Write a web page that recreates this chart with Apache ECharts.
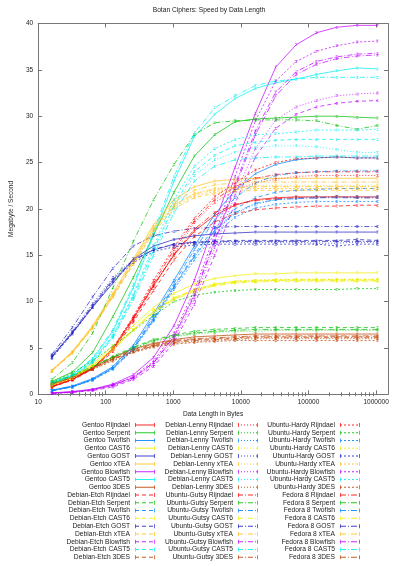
<!DOCTYPE html>
<html><head><meta charset="utf-8">
<script src="https://cdn.jsdelivr.net/npm/echarts@6/dist/echarts.min.js"></script>
<style>html,body{margin:0;padding:0;background:#fff}#c{width:400px;height:566px}</style>
</head><body><div id="c"></div><script>
const sizes = [16,32,64,128,256,512,1024,2048,4096,8192,16384,32768,65536,131072,262144,524288,1048576];
const distros = ['Gentoo','Debian-Etch','Debian-Lenny','Ubuntu-Gutsy','Ubuntu-Hardy','Fedora 8'];
const ciphers = ['Rijndael','Serpent','Twofish','CAST6','GOST','xTEA','Blowfish','CAST5','3DES'];
// each cipher: rows in distro order (Gentoo, Etch, Lenny, Gutsy, Hardy, Fedora 8)
const rijndael = [
 [0.8,1.6,2.8,4.9,8.2,11.8,15.0,17.6,19.3,20.4,21.0,21.2,21.3,21.3,21.3,21.3,21.3],
 [0.8,1.5,2.7,4.6,7.8,11.2,14.5,17.0,18.6,19.5,19.9,20.1,20.2,20.3,20.3,20.4,20.4],
 [0.8,1.6,2.7,4.8,8.0,11.6,15.2,18.5,20.7,22.0,22.8,23.2,23.5,23.6,23.6,23.6,23.6],
 [0.9,1.6,2.8,5.0,8.3,12.0,15.6,18.7,21.0,22.4,23.3,23.7,23.9,24.0,24.0,24.0,24.0],
 [0.9,1.6,2.8,5.0,8.4,12.3,15.9,19.0,21.3,22.8,24.2,25.0,25.4,25.5,25.6,25.5,25.5],
 [0.8,1.6,2.8,4.8,8.1,11.7,15.1,17.8,19.6,20.5,20.9,21.1,21.2,21.2,21.3,21.2,21.2]];
const serpent = [
 [1.4,2.4,4.5,8.4,12.6,17.2,21.8,25.7,28.0,29.4,29.7,29.8,29.9,30.0,30.0,29.9,29.8],
 [1.2,2.0,3.0,4.1,5.1,5.9,6.4,6.8,7.0,7.1,7.2,7.2,7.2,7.2,7.2,7.2,7.2],
 [1.1,1.9,2.9,3.9,4.9,5.7,6.2,6.5,6.7,6.8,6.8,6.9,6.9,6.9,6.9,6.9,6.9],
 [1.6,3.4,6.6,11.5,16.5,21.0,24.8,28.0,29.3,29.5,29.6,29.6,29.6,29.5,29.0,28.6,29.0],
 [1.3,2.3,3.6,5.2,6.9,8.5,10.0,10.7,11.0,11.2,11.3,11.3,11.3,11.3,11.3,11.4,11.4],
 [1.2,2.0,3.0,4.0,5.0,5.8,6.3,6.6,6.8,6.9,7.0,7.0,7.0,7.0,7.0,7.0,7.0]];
const twofish = [
 [0.45,0.9,1.7,3.0,5.3,8.7,12.3,16.0,19.4,22.0,23.8,24.8,25.3,25.5,25.6,25.5,25.5],
 [0.4,0.8,1.6,2.8,5.0,8.2,11.7,15.1,18.0,20.0,21.2,21.8,22.0,22.1,22.2,22.2,22.2],
 [0.4,0.8,1.6,2.8,4.9,8.0,11.5,14.8,17.6,19.5,20.5,21.0,21.2,21.3,21.3,21.3,21.3],
 [0.4,0.85,1.6,2.9,5.1,8.4,12.0,15.6,18.8,21.2,22.8,23.6,23.9,24.0,24.1,24.1,24.1],
 [0.4,0.8,1.5,2.7,4.8,7.9,11.3,14.5,17.2,19.1,20.1,20.5,20.7,20.8,20.8,20.8,20.8],
 [0.4,0.8,1.6,2.8,4.9,8.1,11.6,14.9,17.7,19.6,20.6,21.0,21.1,21.2,21.2,21.2,21.2]];
const cast6 = [
 [1.1,1.9,3.3,5.2,7.4,9.4,10.9,11.9,12.5,12.8,13.0,13.0,13.1,13.1,13.1,13.1,13.1],
 [1.0,1.8,3.1,4.9,7.0,9.0,10.4,11.3,11.9,12.2,12.3,12.3,12.4,12.4,12.4,12.4,12.4],
 [1.0,1.8,3.1,4.9,7.0,8.9,10.3,11.2,11.8,12.1,12.2,12.3,12.3,12.3,12.3,12.3,12.3],
 [1.0,1.8,3.1,4.8,6.9,8.9,10.3,11.2,11.8,12.1,12.2,12.3,12.3,12.3,12.3,12.3,12.3],
 [1.0,1.8,3.1,4.9,7.0,9.0,10.4,11.3,11.9,12.2,12.3,12.4,12.4,12.4,12.4,12.4,12.4],
 [1.0,1.7,3.0,4.8,6.9,8.8,10.2,11.1,11.7,12.0,12.1,12.2,12.2,12.2,12.2,12.2,12.2]];
const gost = [
 [4.1,6.6,9.4,12.0,14.6,16.0,16.7,17.1,17.3,17.4,17.5,17.5,17.5,17.5,17.5,17.5,17.5],
 [4.0,6.6,9.5,12.3,14.4,15.6,16.2,16.4,16.5,16.6,16.6,16.6,16.6,16.6,16.6,16.7,16.6],
 [4.2,6.8,9.8,12.6,14.6,15.6,16.1,16.3,16.4,16.4,16.4,16.4,16.4,16.3,16.3,16.4,16.4],
 [4.3,7.2,10.5,13.6,16.0,17.1,17.6,17.9,18.0,18.1,18.1,18.1,18.1,18.1,18.1,18.1,18.1],
 [3.9,6.5,9.4,12.2,14.2,15.4,15.9,16.1,16.2,16.2,16.2,16.2,16.2,16.2,16.0,16.2,16.2],
 [4.0,6.7,9.6,12.4,14.5,15.6,16.2,16.4,16.5,16.5,16.5,16.5,16.5,16.5,16.5,16.5,16.5]];
const xtea = [
 [2.6,4.6,7.4,10.9,14.6,18.3,21.0,22.4,23.0,23.2,23.3,23.3,23.3,23.3,23.3,23.3,23.3],
 [2.5,4.4,7.1,10.5,14.0,17.5,20.0,21.2,21.7,21.9,22.0,22.0,22.0,22.0,22.0,22.0,22.0],
 [2.5,4.5,7.2,10.6,14.2,17.8,20.4,21.7,22.2,22.4,22.5,22.5,22.5,22.5,22.5,22.5,22.5],
 [2.6,4.6,7.3,10.8,14.4,18.1,20.7,22.0,22.6,22.8,22.9,22.9,22.9,22.9,22.9,22.9,22.9],
 [2.5,4.5,7.2,10.6,14.1,17.7,20.2,21.4,21.9,22.1,22.2,22.2,22.2,22.2,22.2,22.2,22.2],
 [2.6,4.5,7.2,10.7,14.3,17.9,20.4,21.6,22.1,22.3,22.4,22.4,22.4,22.4,22.4,22.4,22.4]];
const blowfish = [
 [0.15,0.3,0.55,1.1,2.1,4.0,7.4,12.3,18.5,24.5,30.3,35.3,37.7,39.0,39.6,39.8,39.8],
 [0.1,0.2,0.4,0.8,1.6,3.0,5.6,9.7,15.0,20.6,25.6,28.7,30.2,31.0,31.4,31.6,31.7],
 [0.1,0.2,0.45,0.9,1.7,3.2,5.9,10.2,15.8,21.5,26.5,29.6,31.0,31.7,32.2,32.4,32.5],
 [0.12,0.25,0.5,1.0,1.8,3.4,6.3,10.8,16.6,22.6,28.4,32.6,34.8,35.9,36.4,36.7,36.8],
 [0.12,0.25,0.5,1.0,1.9,3.6,6.6,11.2,17.2,23.5,29.5,33.8,35.9,37.0,37.6,38.0,38.1],
 [0.12,0.25,0.5,1.0,1.8,3.4,6.2,10.6,16.4,22.3,28.0,32.2,34.5,35.6,36.2,36.5,36.6]];
const cast5 = [
 [1.3,2.1,3.8,6.8,11.5,17.2,23.0,27.8,30.2,31.9,33.0,33.6,34.0,34.5,34.9,35.2,35.1],
 [1.2,2.0,3.5,6.3,10.6,15.6,20.4,24.0,25.8,26.8,27.2,27.4,27.5,27.5,27.5,27.5,27.5],
 [1.2,1.9,3.5,6.2,10.4,15.4,20.2,23.6,25.3,26.1,26.6,26.8,26.8,26.7,26.4,26.1,26.1],
 [1.3,2.1,3.9,7.0,11.8,17.6,23.5,28.2,30.9,32.2,33.3,33.8,34.0,34.2,34.2,34.2,34.2],
 [1.2,2.0,3.6,6.4,10.8,16.0,21.0,24.6,26.5,27.5,28.0,28.1,28.3,28.5,28.5,28.5,28.6],
 [1.1,1.9,3.4,6.1,10.2,15.0,19.6,23.0,24.6,25.3,25.5,25.6,25.6,25.7,25.7,25.7,25.7]];
const des3 = [
 [1.1,1.9,2.9,4.0,4.9,5.5,5.9,6.2,6.3,6.4,6.5,6.5,6.5,6.5,6.5,6.5,6.5],
 [1.0,1.8,2.8,3.8,4.7,5.3,5.7,5.9,6.0,6.1,6.2,6.2,6.2,6.2,6.2,6.2,6.2],
 [1.0,1.8,2.7,3.7,4.6,5.2,5.5,5.7,5.8,5.9,6.0,6.0,6.0,6.0,6.0,6.0,6.0],
 [1.0,1.8,2.8,3.8,4.6,5.2,5.6,5.8,5.9,6.0,6.1,6.1,6.1,6.1,6.1,6.1,6.1],
 [1.0,1.7,2.7,3.6,4.5,5.1,5.4,5.6,5.7,5.8,5.8,5.8,5.8,5.8,5.8,5.8,5.8],
 [1.1,1.8,2.8,3.9,4.8,5.4,5.8,6.0,6.1,6.2,6.3,6.3,6.3,6.3,6.3,6.3,6.3]];
const xTickLabels = [10,100,1000,10000,100000,1000000];
const xMinorTicks = [20,30,40,50,60,70,80,90,200,300,400,500,600,700,800,900,2000,3000,4000,5000,6000,7000,8000,9000,20000,30000,40000,50000,60000,70000,80000,90000,200000,300000,400000,500000,600000,700000,800000,900000];

const cipherData = [rijndael, serpent, twofish, cast6, gost, xtea, blowfish, cast5, des3];
const colors = ['#ff0000','#00c000','#0080ff','#eeee00','#2020c0','#ffc020','#c000ff','#00eeee','#c04000'];
const dashes = ['solid',[4,3],[1,2],[5,2,1,2],[2,2],[6,2,1,2]];
const ibeam = 'path://M0,0H6V1H3.5V5H6V6H0V5H2.5V1H0Z';

// legend sample: line in the distro's dash pattern with error-bar end ticks
function legendIcon(dash) {
  const W = 20;
  let p = 'path://M0,0h0.8v4h-0.8z M' + (W - 0.8) + ',0h0.8v4h-0.8z';
  if (dash === 'solid') { p += ' M0,1.5h' + W + 'v1h-' + W + 'z'; }
  else {
    let x = 0, k = 0;
    while (x < W) {
      const len = dash[k % dash.length];
      if (k % 2 === 0) { const w = Math.min(len, W - x); p += ' M' + x + ',1.5h' + w + 'v1h-' + w + 'z'; }
      x += len; k++;
    }
  }
  return p;
}

const series = [];
const legendItems = [];
distros.forEach((d, di) => {
  ciphers.forEach((c, ci) => {
    const name = d + ' ' + c;
    legendItems.push({ name, icon: legendIcon(dashes[di]) });
    series.push({
      name, type: 'line', xAxisIndex: 0, yAxisIndex: 0,
      data: sizes.map((s, i) => [s, cipherData[ci][di][i]]),
      symbol: ibeam, symbolSize: [2.5, 2.5], showSymbol: true,
      lineStyle: { width: 0.85, color: colors[ci], type: dashes[di], opacity: 0.85 },
      itemStyle: { color: colors[ci], opacity: 0.85 },
      emphasis: { disabled: true }, silent: true
    });
  });
});

const font = 'Liberation Sans, Arial, sans-serif';
const axisCol = '#777';
const xBase = { type: 'log', logBase: 10, min: 10, max: 1500000, gridIndex: 0, splitLine: { show: false } };
const legendBase = {
  orient: 'vertical', align: 'right', top: 421.5, padding: 0,
  itemWidth: 20, itemHeight: 7, itemGap: 0.78, symbolKeepAspect: true,
  textStyle: { fontFamily: font, fontSize: 6.7, color: '#222', lineHeight: 7 },
  selectedMode: false
};

const chart = echarts.init(document.getElementById('c'), null, { renderer: 'canvas' });
chart.setOption({
  animation: false,
  backgroundColor: '#fff',
  title: { text: 'Botan Ciphers: Speed by Data Length', left: 209, top: 7, textAlign: 'center', padding: 0,
    textStyle: { fontFamily: font, fontSize: 6.7, fontWeight: 'normal', color: '#222' } },
  grid: { left: 29.5, right: 12, top: 23.5, bottom: 171.7, containLabel: false },
  legend: [
    Object.assign({}, legendBase, { right: 245, data: legendItems.slice(0, 18) }),
    Object.assign({}, legendBase, { right: 142, data: legendItems.slice(18, 36) }),
    Object.assign({}, legendBase, { right: 40, data: legendItems.slice(36, 54) })
  ],
  xAxis: [
    Object.assign({}, xBase, { position: 'bottom',
      name: 'Data Length in Bytes', nameLocation: 'middle', nameGap: 16,
      nameTextStyle: { fontFamily: font, fontSize: 6.5, color: '#222' },
      axisLine: { show: true, onZero: false, lineStyle: { color: axisCol, width: 1 } },
      axisTick: { show: true, inside: true, length: 4, customValues: xTickLabels, lineStyle: { color: axisCol } },
      axisLabel: { show: true, customValues: xTickLabels, margin: 4, fontFamily: font, fontSize: 6.5, color: '#222',
        formatter: v => String(Math.round(v)) } }),
    Object.assign({}, xBase, { position: 'bottom',
      axisLine: { show: false },
      axisTick: { show: true, inside: true, length: 2, customValues: xMinorTicks, lineStyle: { color: axisCol } },
      axisLabel: { show: false } }),
    Object.assign({}, xBase, { position: 'top',
      axisLine: { show: true, onZero: false, lineStyle: { color: axisCol, width: 1 } },
      axisTick: { show: true, inside: true, length: 4, customValues: xTickLabels, lineStyle: { color: axisCol } },
      axisLabel: { show: false } }),
    Object.assign({}, xBase, { position: 'top',
      axisLine: { show: false },
      axisTick: { show: true, inside: true, length: 2, customValues: xMinorTicks, lineStyle: { color: axisCol } },
      axisLabel: { show: false } })
  ],
  yAxis: [
    { type: 'value', min: 0, max: 40, interval: 5, position: 'left',
      name: 'Megabyte / Second', nameLocation: 'middle', nameGap: 23,
      nameTextStyle: { fontFamily: font, fontSize: 6.5, color: '#222' },
      axisLine: { show: true, onZero: false, lineStyle: { color: axisCol, width: 1 } },
      axisTick: { show: true, inside: true, length: 4, lineStyle: { color: axisCol } },
      axisLabel: { margin: 5, fontFamily: font, fontSize: 6.5, color: '#222' },
      splitLine: { show: false } },
    { type: 'value', min: 0, max: 40, interval: 5, position: 'right',
      axisLine: { show: true, onZero: false, lineStyle: { color: axisCol, width: 1 } },
      axisTick: { show: true, inside: true, length: 4, lineStyle: { color: axisCol } },
      axisLabel: { show: false }, splitLine: { show: false } }
  ],
  series
});
</script></body></html>
